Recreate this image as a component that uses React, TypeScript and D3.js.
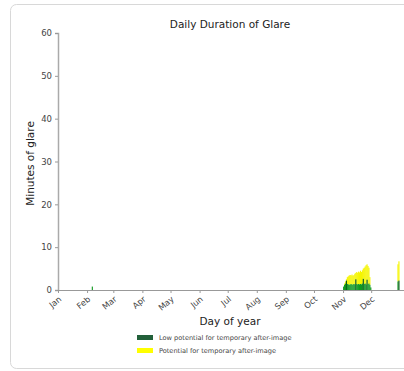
import React, { useEffect, useRef } from 'react';
import * as d3 from 'd3';

const monthLabels = ['Jan', 'Feb', 'Mar', 'Apr', 'May', 'Jun', 'Jul', 'Aug', 'Sep', 'Oct', 'Nov', 'Dec'];
const monthStartDays = [0, 31, 59, 90, 120, 151, 181, 212, 243, 273, 304, 334];
const yTicks = [0, 10, 20, 30, 40, 50, 60];

// day of year (0-based) with glare minutes
const glareDays = [36,
  304, 305, 306, 307, 308, 309, 310, 311, 312, 313, 314, 315, 316, 317, 318,
  319, 320, 321, 322, 323, 324, 325, 326, 327, 328, 329, 330, 331, 332, 333,
  362, 363];
const lowMinutes = [0.8,
  0.8, 1.2, 1.5, 2.2, 1.4, 1.3, 1.2, 1.3, 1.4, 1.2, 1.3, 1.4, 1.3, 2.5, 1.4,
  1.3, 1.4, 1.3, 1.4, 1.3, 1.5, 2.6, 1.4, 1.5, 1.3, 2.4, 1.4, 1.5, 1.2, 0.6,
  2.0, 2.2];
const potentialMinutes = [0,
  0, 0.3, 0.5, 0.3, 1.6, 1.9, 2.2, 2.2, 2.0, 2.4, 2.0, 2.1, 2.5, 1.5, 2.8,
  2.7, 2.9, 2.8, 3.1, 2.9, 3.1, 2.4, 3.8, 4.0, 4.5, 3.6, 4.2, 3.7, 1.8, 0,
  4.0, 4.5];

const legendLabels = ['Low potential for temporary after-image', 'Potential for temporary after-image'];
const legendColors = ['#22603a', '#ffff00'];

const App: React.FC = () => {
  const svgRef = useRef<SVGSVGElement>(null);
  const width = 404;
  const height = 371;

  useEffect(() => {
    if (!svgRef.current) return;
    const svg = d3.select(svgRef.current);
    svg.selectAll('*').remove();

    // card outline
    svg.append('rect')
      .attr('x', 10.5).attr('y', 4.5)
      .attr('width', 420).attr('height', 364)
      .attr('rx', 6)
      .attr('fill', '#fff')
      .attr('stroke', '#d8d8d8');

    const x = d3.scaleLinear().domain([0, 369]).range([58, 404]);
    const y = d3.scaleLinear().domain([0, 60]).range([290, 33]);
    const font = 'DejaVu Sans, sans-serif';

    svg.append('text')
      .attr('x', 230).attr('y', 28)
      .attr('text-anchor', 'middle')
      .attr('font-family', font).attr('font-size', 10.5)
      .attr('fill', '#222')
      .text('Daily Duration of Glare');

    // bars: yellow stacked on top of green
    const data = glareDays.map((d, i) => ({ day: d, low: lowMinutes[i], pot: potentialMinutes[i] }));
    const bw = x(1) - x(0);
    svg.append('g').selectAll('rect')
      .data(data.filter(d => d.pot > 0))
      .enter().append('rect')
      .attr('x', d => x(d.day))
      .attr('y', d => y(d.low + d.pot))
      .attr('width', bw + 0.2)
      .attr('height', d => y(d.low) - y(d.low + d.pot))
      .attr('fill', '#f5f500');
    svg.append('g').selectAll('rect')
      .data(data)
      .enter().append('rect')
      .attr('x', d => x(d.day))
      .attr('y', d => y(d.low))
      .attr('width', bw + 0.2)
      .attr('height', d => y(0) - y(d.low))
      .attr('fill', (d) => d.low > 2 ? '#0b5a1a' : '#129a22');

    // y axis
    const yAxis = svg.append('g')
      .attr('transform', `translate(${x(0)},0)`)
      .call(d3.axisLeft(y).tickValues(yTicks).tickSize(3).tickPadding(3));
    yAxis.select('.domain').attr('stroke', '#aaa').attr('stroke-width', 1.5);
    yAxis.selectAll('.tick line').attr('stroke', '#999');
    yAxis.selectAll('.tick text')
      .attr('font-family', font).attr('font-size', 8.5)
      .attr('fill', '#444');

    // x axis
    const xAxis = svg.append('g')
      .attr('transform', `translate(0,${y(0)})`)
      .call(d3.axisBottom(x).tickValues(monthStartDays).tickSize(3).tickFormat(() => ''));
    xAxis.select('.domain').attr('stroke', '#999');
    xAxis.selectAll('.tick line').attr('stroke', '#999');

    svg.append('g').selectAll('text')
      .data(monthStartDays)
      .enter().append('text')
      .attr('transform', d => `translate(${x(d) + 4},${y(0) + 10}) rotate(-40)`)
      .attr('text-anchor', 'end')
      .attr('font-family', font).attr('font-size', 8.3)
      .attr('fill', '#444')
      .text((d, i) => monthLabels[i]);

    svg.append('text')
      .attr('transform', `translate(34,${(y(0) + y(60)) / 2 + 2}) rotate(-90)`)
      .attr('text-anchor', 'middle')
      .attr('font-family', font).attr('font-size', 10.5)
      .attr('fill', '#222')
      .text('Minutes of glare');

    svg.append('text')
      .attr('x', 230).attr('y', 325)
      .attr('text-anchor', 'middle')
      .attr('font-family', font).attr('font-size', 10.5)
      .attr('fill', '#222')
      .text('Day of year');

    const legend = svg.append('g').selectAll('g')
      .data(legendLabels)
      .enter().append('g')
      .attr('transform', (d, i) => `translate(137,${338 + i * 13})`);
    legend.append('rect')
      .attr('x', 0).attr('y', -3)
      .attr('width', 16).attr('height', 5)
      .attr('fill', (d, i) => legendColors[i]);
    legend.append('text')
      .attr('x', 22).attr('y', 2)
      .attr('font-family', font).attr('font-size', 6.6)
      .attr('fill', '#444')
      .text(d => d);
  }, []);

  return <svg ref={svgRef} width={width} height={height} style={{ position: 'absolute', left: 0, top: 0 }}></svg>;
};

export default App;
